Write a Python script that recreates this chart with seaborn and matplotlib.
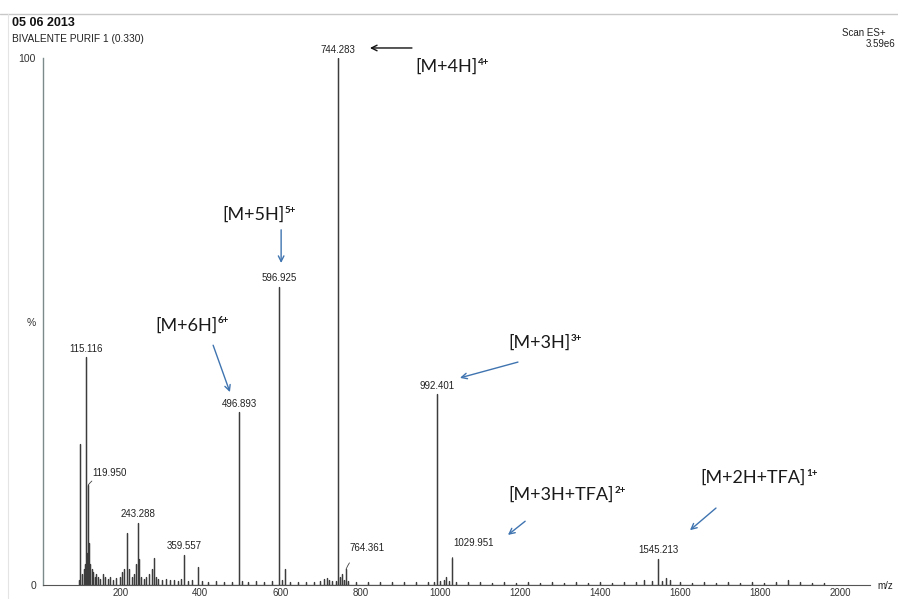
import matplotlib
matplotlib.use("Agg")
import matplotlib.pyplot as plt
from matplotlib.lines import Line2D
from matplotlib.ticker import MultipleLocator, FixedLocator
import seaborn as sns
import pandas as pd

sns.set_style("white")
plt.rcParams["font.family"] = ["Liberation Sans", "DejaVu Sans"]

# ---- ESI+ spectrum: centroid m/z and relative intensity (%) ----
peak_mz = [
    97, 100, 103, 108, 112, 115.116, 117, 119.950, 122, 125, 128, 132, 136,
    140, 145, 150, 156, 162, 168, 175, 182, 190, 198, 205, 210, 217, 222,
    228, 235, 240, 243.288, 246, 252, 258, 265, 272, 278, 283, 288, 295,
    305, 315, 325, 335, 345, 352, 359.557, 370, 380, 394, 405, 420, 440,
    460, 480, 496.893, 505, 520, 540, 560, 580, 596.925, 603, 612, 625,
    645, 665, 685, 700, 710, 716, 722, 730, 738, 744.283, 750, 755, 760,
    764.361, 770, 790, 820, 850, 880, 910, 940, 970, 985, 992.401, 998,
    1008, 1015, 1022, 1029.951, 1040, 1070, 1100, 1130, 1160, 1190, 1220,
    1250, 1280, 1310, 1340, 1370, 1400, 1430, 1460, 1490, 1510, 1530,
    1545.213, 1555, 1565, 1575, 1600, 1630, 1660, 1690, 1720, 1750, 1780,
    1810, 1840, 1870, 1900, 1930, 1960,
]
peak_pct = [
    1.0, 26.7, 2.0, 3.0, 4.0, 43.2, 6.0, 19.0, 8.0, 4.0, 3.0, 2.5, 1.5,
    2.0, 1.5, 1.2, 2.0, 1.5, 1.2, 1.5, 1.0, 1.3, 1.5, 2.5, 3.0, 9.9, 3.0,
    1.5, 2.0, 4.0, 11.8, 5.0, 1.5, 1.2, 1.5, 2.0, 3.0, 5.1, 1.5, 1.2,
    1.0, 1.2, 0.9, 1.0, 0.8, 1.2, 5.7, 0.8, 1.0, 3.4, 0.8, 0.6, 0.7,
    0.5, 0.6, 32.8, 0.8, 0.6, 0.7, 0.5, 0.8, 56.6, 1.0, 3.0, 0.6,
    0.5, 0.6, 0.5, 0.8, 1.2, 1.3, 1.0, 0.7, 0.8, 100.0, 1.5, 2.0, 1.0,
    3.0, 0.8, 0.5, 0.5, 0.6, 0.5, 0.5, 0.6, 0.5, 0.6, 36.2, 0.8,
    1.0, 1.5, 0.8, 5.1, 0.6, 0.5, 0.5, 0.4, 0.5, 0.4, 0.5,
    0.4, 0.5, 0.4, 0.5, 0.4, 0.5, 0.4, 0.5, 0.6, 0.9, 0.8,
    5.0, 0.8, 1.3, 1.0, 0.5, 0.4, 0.5, 0.4, 0.5, 0.4, 0.5,
    0.4, 0.5, 1.0, 0.5, 0.4, 0.4,
]

# peaks carrying an m/z label
labelled_mz = [115.116, 119.950, 243.288, 359.557, 496.893, 596.925,
               744.283, 764.361, 992.401, 1029.951, 1545.213]

# ion assignments: base text and charge state
ion_names = ["[M+4H]", "[M+5H]", "[M+6H]", "[M+3H]", "[M+3H+TFA]", "[M+2H+TFA]"]
ion_charges = ["4+", "5+", "6+", "3+", "2+", "1+"]

x_ticks = [200, 400, 600, 800, 1000, 1200, 1400, 1600, 1800, 2000]
y_ticks = [0, 50, 100]
y_tick_labels = ["0", "%", "100"]

# stick profile: each centroid rises from and returns to the baseline
rows = []
for m, h in sorted(zip(peak_mz, peak_pct)):
    rows += [(m, 0.0), (m, h), (m, 0.0)]
profile = pd.DataFrame(rows, columns=["mz", "pct"])
height = dict(zip(peak_mz, peak_pct))

W, H = 898, 599
fig = plt.figure(figsize=(W / 100, H / 100), dpi=100)
ax = fig.add_axes([43 / W, (H - 585) / H, 827 / W, 527 / H])

sns.lineplot(data=profile, x="mz", y="pct", sort=False, estimator=None,
             color="#3c3c3c", lw=0.9, ax=ax)

ax.set_xlim(6.75, 2074)
ax.set_ylim(0, 100)
ax.set_xlabel("")
ax.set_ylabel("")
for s in ("top", "right"):
    ax.spines[s].set_visible(False)
ax.spines["left"].set_color("#7d8a8a")
ax.spines["left"].set_linewidth(1.0)
ax.spines["bottom"].set_color("#555555")
ax.spines["bottom"].set_linewidth(0.8)

ax.xaxis.set_major_locator(FixedLocator(x_ticks))
ax.xaxis.set_minor_locator(MultipleLocator(20))
ax.set_xticklabels([str(t) for t in x_ticks])
ax.tick_params(axis="x", which="major", direction="inout", length=4,
               width=0.7, color="#555555", labelsize=7, labelcolor="#333333",
               pad=0.5)
ax.tick_params(axis="x", which="minor", direction="inout", length=3,
               width=0.6, color="#555555")
ax.yaxis.set_major_locator(FixedLocator(y_ticks))
ax.yaxis.set_minor_locator(MultipleLocator(10))
ax.set_yticklabels(y_tick_labels)
ax.tick_params(axis="y", which="major", direction="out", length=4,
               width=0.7, color="#7d8a8a", labelsize=7.5, labelcolor="#333333",
               pad=1)
ax.tick_params(axis="y", which="minor", direction="out", length=3,
               width=0.6, color="#7d8a8a")

# m/z labels above peaks
offsets = {119.950: (174, 21.3), 764.361: (817, 7.0), 1029.951: (1084, 8.0)}
for m in labelled_mz:
    h = height[m]
    txt = f"{m:.3f}"
    if m in offsets:
        tx, ty = offsets[m]
        ax.annotate(txt, xy=(m, h), xytext=(tx, ty), textcoords="data",
                    fontsize=7, color="#222222", ha="center", va="center",
                    arrowprops=dict(arrowstyle="-", lw=0.6, color="#444444",
                                    shrinkA=6, shrinkB=0,
                                    connectionstyle="arc3,rad=0.2"))
    else:
        ax.annotate(txt, xy=(m, h), xytext=(0, 2.5), textcoords="offset points",
                    fontsize=7, color="#222222", ha="center", va="bottom",
                    annotation_clip=False)

# ion assignment call-outs: text anchor (left, centre) and arrow start/end
blue = "#3f74b0"
callouts = [
    ((937, 98.3), (929, 101.9), (824, 101.9), "#111111"),
    ((454, 70.2), (602, 67.4), (602, 61.1), blue),
    ((287, 49.3), (432, 45.5), (474, 36.6), blue),
    ((1169, 45.9), (1194, 42.3), (1049, 39.3), blue),
    ((1169, 17.1), (1212, 12.1), (1169, 9.5), blue),
    ((1649, 20.3), (1689, 14.6), (1624, 10.4), blue),
]
for name, charge, (pos, start, end, col) in zip(ion_names, ion_charges, callouts):
    t = ax.text(pos[0], pos[1], name, clip_on=False, family="Lato",
                fontsize=13, color="#1a1a1a", ha="left", va="center")
    ax.annotate(charge, xy=(1.0, 0.78), xycoords=t, xytext=(0.5, 0),
                textcoords="offset points", family="Lato", fontsize=7,
                fontweight="bold", color="#1a1a1a", ha="left", va="center")
    ax.annotate("", xy=end, xytext=start, annotation_clip=False,
                arrowprops=dict(arrowstyle="->", lw=1.0, color=col,
                                shrinkA=0, shrinkB=0, mutation_scale=10))

# header block
fig.add_artist(Line2D([0, 1], [1 - 14 / H] * 2, color="#c8c8c8", lw=1.0))
fig.add_artist(Line2D([8 / W] * 2, [0, 1 - 14 / H], color="#e4e4e4", lw=0.8))
fig.text(12 / W, 1 - 23 / H, "05 06 2013", fontsize=9, fontweight="bold",
         color="#111111", va="center", ha="left")
fig.text(12 / W, 1 - 39 / H, "BIVALENTE PURIF 1 (0.330)", fontsize=7.3,
         color="#222222", va="center", ha="left")
fig.text(886 / W, 1 - 33 / H, "Scan ES+", fontsize=7, color="#222222",
         va="center", ha="right")
fig.text(895 / W, 1 - 44 / H, "3.59e6", fontsize=7, color="#222222",
         va="center", ha="right")
fig.text(877 / W, 1 - 586 / H, "m/z", fontsize=7, color="#222222",
         va="center", ha="left")

fig.savefig("out.png", dpi=100, facecolor="white")
